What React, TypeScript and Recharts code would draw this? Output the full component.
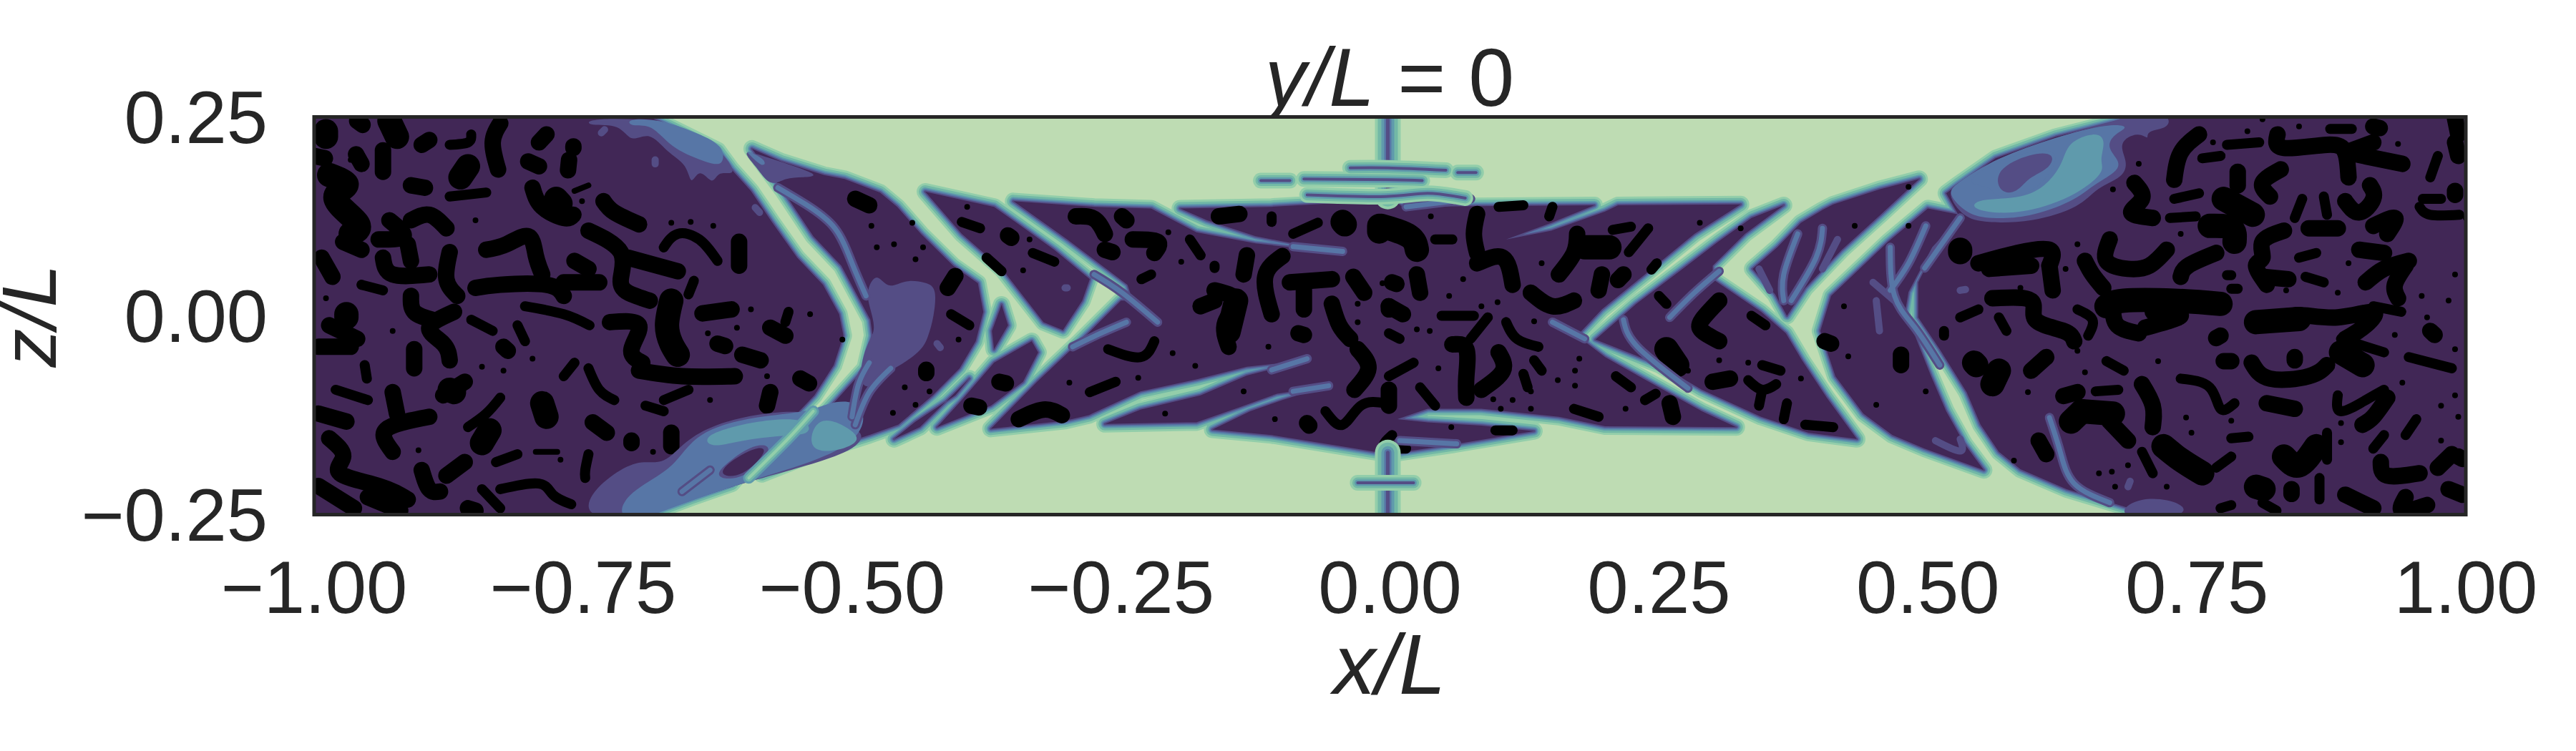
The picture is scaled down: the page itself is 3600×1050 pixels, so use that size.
import { ScatterChart, Scatter, XAxis, YAxis, ReferenceArea } from "recharts";

// ticks
const xTicks = [-1, -0.75, -0.5, -0.25, 0, 0.25, 0.5, 0.75, 1];
const zTicks = [-0.25, 0, 0.25];

// all shapes below are flat lists x,z,x,z... read off the picture, in thousandths of x/L and z/L
// regions of low field, the filaments are the gaps left between them
const cells = [
  [-688, 255, -688, 250, -655, 228, -625, 208, -612, 184, -594, 157, -574, 117, -551, 73, -527, 39, -512, 2, -508, -25, -517, -62, -535, -100, -561, -137, -593, -181, -612, -211, -648, -228, -688, -248, -700, -255, -1010, -255, -1010, 255],
  [-593, 210, -566, 194, -526, 177, -507, 172, -474, 155, -458, 137, -436, 103, -406, 63, -383, 41, -378, 5, -385, -32, -400, -66, -425, -100, -457, -137, -484, -150, -530, -170, -584, -199, -524, -120, -488, -66, -481, -25, -483, -5, -510, 63, -536, 100, -564, 157],
  [-432, 156, -368, 137, -343, 113, -312, 83, -279, 46, -286, 19, -304, -18, -322, -8, -360, 58, -398, 103],
  [-333, -32, -327, -46, -341, -83, -371, -113, -421, -140, -398, -106, -368, -59],
  [-361, 14, -355, -12, -368, -42, -370, -19],
  [-461, -155, -437, -140, -391, -79, -404, -100, -441, -133],
  [-350, 144, -275, 137, -222, 135, -180, 105, -125, 91, -44, 79, -125, 100, -170, 120, -195, 135, -110, 137, -44, 142, -2, 150, 12, 137, 190, 139, 150, 117, 108, 96, 150, 107, 200, 131, 212, 139, 326, 140, 283, 103, 237, 52, 197, 8, 174, -25, 200, -52, 250, -90, 290, -120, 322, -140, 200, -139, 157, -127, 85, -117, 35, -117, 7, -130, 35, -134, 85, -138, 134, -145, 63, -161, -1, -174, -37, -166, -110, -150, -165, -143, -130, -120, -100, -106, -60, -89, -105, -98, -140, -115, -180, -134, -189, -134, -265, -136, -232, -118, -176, -100, -133, -75, -77, -56, -133, -64, -180, -80, -232, -95, -280, -125, -302, -132, -371, -142, -328, -83, -288, -32, -250, 19, -239, 19, -244, 39, -300, 96],
  [191, -30, 229, 15, 272, 59, 305, 93, 336, 123, 366, 139, 330, 103, 300, 63, 300, 46, 345, 5, 368, -22, 383, -56, 406, -103, 434, -155, 389, -147, 345, -127, 290, -93, 251, -62],
  [402, 133, 412, 140, 455, 159, 492, 172, 456, 127, 420, 83, 386, 35, 369, 0, 358, 27, 337, 59, 360, 86, 382, 117],
  [500, 135, 530, 127, 527, 120, 504, 86, 482, 30, 478, -2, 488, -25, 503, -76, 517, -120, 534, -161, 552, -194, 497, -167, 467, -150, 440, -123, 414, -76, 400, -19, 410, 25, 463, 93],
  [692, 255, 692, 250, 669, 242, 619, 225, 563, 198, 527, 164, 517, 154, 530, 123, 510, 93, 491, 42, 491, -2, 511, -42, 536, -96, 549, -137, 566, -171, 586, -193, 629, -218, 702, -248, 715, -255, 1010, -255, 1010, 255],
];

// black pockets, grouped by how thick they are drawn
const pocketsTiny = [
  [-771, 147], [-751, 144], [-745, 164, -758, 157], [-850, 120], [-966, 196], [-668, 117], [-650, 118], [-629, 113], [-594, 8], [-989, 22], [-927, -19], [-607, -15], [-634, -22], [-539, 2], [-509, -30], [-579, -76], [-797, -54], [-824, -69], [-844, -64], [-632, -106], [-794, -171, -774, -171], [-771, -181], [-685, -171], [-903, -169],
  [-482, 113], [-444, 117], [-477, 86], [-434, 86], [-461, 90], [-441, 71], [-401, -30], [-451, -90], [-441, -112], [-462, -122], [-428, -95], [-393, 137], [-335, 96], [-341, 57], [-298, -84], [-206, 105], [-194, 68], [-107, -130], [-209, -123], [-136, -95], [-181, -63], [-234, -78], [-202, -47], [-113, -39], [-7, 41], [-30, 15], [-30, -8],
  [38, 125], [141, 66], [68, 46], [55, 25], [85, 12], [100, 17], [134, -7], [25, -17], [37, -19], [45, -66], [176, -54], [172, -69], [156, -81], [172, -88], [131, -95], [96, -105], [114, -106], [131, -117], [103, -117], [219, -117], [277, -69], [306, -56], [333, -59], [382, -79], [432, 113], [482, 113], [482, 162], [422, 12], [426, -51], [326, 110], [288, 117], [452, -112], [498, -95], [57, -140],
  [696, 191], [765, 218], [672, 159], [845, 238], [797, 232], [811, 247], [1000, 123], [735, 103], [586, 35], [628, 59], [639, 90], [891, 66], [990, 52], [959, 25], [984, 19], [881, 29], [833, 32], [964, -2], [934, -24], [990, -42], [714, -57], [646, -71], [639, -44], [593, -96], [941, -84], [990, -100], [977, -113], [993, -127], [884, -135], [782, -132], [740, -128], [977, -157], [745, -147], [884, -159], [686, -188], [659, -198], [671, -196], [580, -182], [722, -215], [674, -215], [937, 216],
];
const pocketsThin = [
  [-874, 215, -857, 218, -854, 228], [-874, 150, -840, 155], [-854, -5, -834, -19], [-811, -12, -804, -32], [-956, 39, -936, 32], [-675, 86, -662, 103, -642, 96, -625, 69], [-647, 44, -652, 27], [-804, 12, -768, 2, -744, -12], [-559, 5, -562, -8], [-953, -62, -951, -79], [-980, -93, -950, -106], [-675, -106, -652, -93], [-692, -113, -675, -120], [-827, -103, -840, -123, -857, -140], [-745, -174, -748, -194, -748, -204], [-831, -184, -811, -174], [-827, -218, -791, -211, -778, -225, -761, -237], [-844, -218, -827, -242], [-758, -59, -768, -76], [-745, -66, -735, -93, -721, -106],
  [-408, 2, -391, -12], [-375, 73, -361, 56], [-332, 79, -312, 68], [-186, 96, -176, 76], [-222, 52, -231, 46], [-163, 63, -163, 60], [-110, 125, -110, 118], [-90, 103, -67, 117], [-262, -42, -232, -52, -219, -32], [-279, -96, -255, -83], [-60, -120, -44, -137, -27, -113, -4, -110], [2, -150, -5, -164, 15, -167], [98, -144, 114, -144],
  [101, 137, 124, 139], [151, 137, 148, 125], [42, 96, 58, 96], [207, 108, 224, 112], [240, 110, 222, 80], [48, 0, 78, 0], [-1, -22, 9, -29], [108, -8, 118, -29, 138, -39], [91, -2, 75, -29], [22, -59, -1, -76], [28, -90, 42, -113], [124, -73, 128, -90], [134, -56, 141, -69], [210, -76, 224, -90], [237, -106, 247, -98], [171, -117, 194, -127], [346, -62, 363, -69], [333, -81, 346, -93, 359, -86], [346, -93, 343, -113], [369, -110, 366, -130], [250, 25, 257, 15], [336, 0, 349, -12], [243, 58, 248, 66], [386, -137, 412, -140], [-398, 118, -381, 110],
  [729, 147, 752, 154], [725, 123, 749, 125], [755, 198, 772, 201], [778, 215, 808, 218], [874, 235, 894, 235], [974, 201, 967, 174], [848, 147, 841, 123], [868, 150, 871, 127], [957, 137, 967, 127, 994, 127], [960, 147, 977, 147], [530, -2, 547, 8], [566, -2, 573, -19], [515, -19, 515, -25], [639, 8, 653, -5, 649, -25], [778, 51, 782, 51], [782, 34, 788, 34], [845, 73, 861, 79], [851, 49, 868, 42], [914, 12, 940, 5], [884, -29, 924, -46], [947, -52, 987, -66], [666, -57, 682, -69], [656, -95, 677, -93], [735, -79, 762, -90, 772, -117, 785, -110], [881, -100, 884, -120, 907, -106, 924, -93], [954, -130, 944, -150], [924, -150, 914, -167], [782, -154, 798, -152], [699, -171, 709, -198], [782, -177, 768, -191], [871, -147, 871, -181], [864, -204, 864, -231], [782, -238, 772, -242], [811, -235, 824, -245], [761, 20, 772, 15],
];
const pocketsMid = [
  [-960, 245, -955, 240], [-893, 221, -900, 215], [-1000, 201, -990, 198], [-961, 203, -956, 191], [-936, 208, -936, 181], [-827, 242, -834, 218, -829, 184], [-784, 228, -791, 218], [-759, 213, -759, 211], [-801, 194, -791, 188], [-763, 196, -764, 183], [-973, 93, -956, 83], [-910, 164, -897, 161], [-797, 161, -788, 137, -768, 123, -759, 127], [-731, 144, -721, 130, -698, 115], [-930, 120, -917, 100, -940, 96], [-910, 120, -893, 127, -877, 110], [-913, 90, -910, 69], [-874, 80, -877, 46, -867, 25], [-840, 83, -821, 90, -801, 100, -794, 76, -788, 52], [-745, 107, -715, 80, -715, 46, -708, 29, -688, 19], [-708, 73, -662, 56], [-605, 93, -605, 63], [-758, 69, -745, 59], [-936, 73, -927, 52, -893, 52], [-993, 73, -983, 49], [-850, 35, -827, 39, -784, 39, -768, 25], [-768, 42, -735, 42], [-910, 25, -907, 5, -890, -5], [-725, -8, -698, -12, -705, -42, -695, -59], [-698, -69, -658, -76, -609, -76], [-639, 3, -612, 8], [-986, -12, -960, -29], [-996, -39, -966, -39], [-870, 5, -893, -15, -880, -35, -874, -56], [-824, -39, -820, -44], [-907, -42, -907, -66], [-625, -35, -618, -38], [-576, -15, -562, -25], [-602, -49, -585, -56], [-548, -79, -540, -85], [-927, -96, -923, -123], [-860, -83, -880, -100], [-576, -96, -579, -113], [-741, -134, -728, -147], [-996, -123, -970, -133], [-893, -127, -933, -143, -927, -171], [-986, -154, -973, -177, -976, -198, -940, -214, -913, -231], [-705, -157, -705, -160], [-668, -147, -668, -164], [-860, -184, -877, -201], [-900, -194, -893, -218, -883, -221], [-950, -228, -920, -245], [-996, -214, -963, -242], [-857, -242, -850, -245],
  [-497, 147, -484, 139], [-404, 50, -411, 35], [-431, -68, -431, -72], [-355, 101, -352, 98], [-265, 83, -258, 80], [-363, -83, -357, -85], [-389, -113, -382, -115], [-292, 125, -275, 122, -265, 103], [-249, 125, -245, 120], [-239, 96, -216, 93, -219, 79], [-159, 125, -140, 128], [-133, 76, -136, 52], [-100, 75, -116, 49, -110, 2], [-163, 32, -143, 19, -153, -8, -150, -39], [-176, 12, -163, 19], [-93, 42, -54, 46], [-80, 32, -80, 8], [-34, 49, -24, 29], [-54, 15, -47, -12, -37, -29], [-1, 12, -1, 8], [-85, -22, -80, -24], [-30, -42, -20, -66, -33, -93], [-77, -135, -75, -138], [-1, 187, -1, 186], [-345, -130, -322, -118, -305, -125],
  [81, 128, 78, 103, 81, 79], [25, 52, 28, 29], [2, 42, 6, 40], [81, 66, 105, 73, 114, 39], [197, 52, 194, 32], [217, 52, 212, 45], [131, 29, 151, 12, 171, 19], [-1, 12, 12, 2], [58, -36, 71, -42, 71, -76, 71, -103], [101, -46, 105, -69, 85, -93], [-1, -93, -1, -113], [260, -110, 263, -127], [300, -83, 316, -79], [306, 19, 290, -5, 290, -19, 306, -32], [404, -32, 410, -35], [475, -49, 475, -62], [157, 52, 171, 79, 174, 103],
  [752, 228, 735, 205, 729, 171], [825, 228, 831, 211, 871, 215, 888, 205, 891, 174], [914, 218, 888, 205], [891, 205, 941, 191], [990, 248, 993, 228], [914, 238, 920, 236], [828, 184, 811, 167, 818, 150], [788, 181, 788, 164], [692, 167, 699, 147, 689, 130, 709, 123], [888, 144, 901, 130, 914, 147, 911, 164], [990, 157, 990, 152], [914, 113, 934, 123, 927, 103], [831, 107, 811, 93, 811, 73, 805, 63, 815, 39], [811, 49, 835, 46], [854, 110, 881, 110], [669, 96, 666, 69, 686, 59, 706, 63, 722, 83], [547, 66, 583, 79, 613, 83, 613, 63], [557, 59, 596, 63], [613, 63, 616, 32], [646, 69, 653, 52, 663, 35], [768, 79, 742, 63, 735, 49], [901, 83, 924, 79], [947, 69, 924, 59, 907, 42], [944, 63, 934, 39, 937, 22], [560, 22, 596, 19, 600, -5, 626, -19, 636, -32], [672, 12, 676, -12, 696, -22], [709, 5, 735, 0, 702, -15], [805, -5, 828, -5, 845, 1, 881, -2, 914, 5, 907, -12, 888, -29], [772, -25, 768, -28], [967, -19, 971, -24], [841, -52, 841, -56], [775, -57, 782, -57], [801, -59, 818, -79, 854, -76, 871, -62], [610, -52, 596, -69], [639, -96, 626, -101], [699, -86, 709, -113, 709, -140], [815, -110, 841, -117], [927, -103, 914, -127, 904, -137], [669, -133, 686, -157], [603, -157, 610, -174], [921, -184, 927, -201, 957, -198], [987, -174, 974, -191], [838, -218, 838, -224], [888, -225, 914, -242], [944, -228, 941, -245, 964, -238], [984, -218, 997, -225], [993, 201, 990, 218], [993, -177, 997, -180],
];
const pocketsWide = [
  [-989, 232, -989, 225], [-930, 245, -923, 225], [-857, 188, -864, 174], [-986, 177, -970, 164, -980, 147, -960, 117, -966, 103], [-775, 147, -771, 141], [-668, 19, -672, -12, -668, -35, -662, -49], [-970, 2, -970, -2], [-874, -93, -870, -96], [-788, -110, -784, -127], [-837, -144, -844, -160],
  [-143, 19, -150, -20], [-44, 118, -42, 115], [-10, 113, -10, 106], [-8, 113, 18, 100, 25, 83], [181, 86, 204, 86], [257, -42, 267, -62],
  [530, 83, 530, 80], [775, 147, 802, 127], [762, 113, 782, 110, 785, 93], [543, -59, 545, -62], [566, -69, 560, -86], [884, -46, 904, -62], [666, 12, 682, 19, 729, 19, 772, 15], [805, -8, 845, -4], [643, -120, 633, -133], [643, -120, 672, -123], [719, -164, 735, -181, 755, -198], [831, -177, 845, -188, 861, -164], [805, -215, 812, -218],
];

// softer patches of the field, painted in order from dark to light
const indigoPatches = [
  [-748, 248, -745, 238, -715, 242, -706, 216, -688, 233, -672, 205, -653, 191, -650, 161, -642, 188, -629, 162, -625, 184, -605, 174, -622, 211, -655, 232, -688, 248],
  [-605, 211, -576, 198, -526, 176, -546, 174, -562, 174, -576, 161, -589, 188],
  [-487, 32, -477, 56, -467, 32, -451, 46, -431, 42, -421, 35, -424, -2, -429, -25, -434, -42, -454, -62, -471, -73, -487, -96, -494, -76, -487, -35, -477, -19, -484, 12],
  [-748, -255, -745, -225, -718, -194, -695, -181, -675, -188, -655, -157, -629, -137, -589, -123, -536, -117, -530, -143, -490, -137, -487, -171, -609, -211, -695, -255],
  [692, 255, 725, 255, 725, 235, 702, 233, 706, 220, 696, 232, 676, 218, 686, 194, 682, 174, 656, 161, 643, 137, 596, 117, 553, 117, 533, 123, 517, 154, 527, 167, 563, 198, 619, 225, 669, 242],
  [669, -255, 696, -225, 740, -235, 740, -255],
];
const bluePatches = [
  [-711, 248, -705, 237, -688, 242, -672, 218, -658, 205, -632, 191, -619, 189, -619, 215, -648, 232, -678, 247],
  [-602, 211, -579, 196, -582, 186, -592, 198],
  [-718, -255, -711, -225, -675, -198, -662, -181, -649, -157, -629, -140, -592, -127, -536, -120, -526, -110, -487, -103, -487, -167, -609, -211, -692, -255],
  [669, 242, 689, 238, 672, 228, 666, 211, 679, 194, 676, 181, 653, 164, 636, 144, 593, 123, 557, 122, 537, 127, 517, 154, 527, 167, 563, 198, 619, 225],
];
const tealPatches = [
  [-640, -150, -592, -132, -541, -127, -537, -150, -562, -150, -606, -157, -632, -167],
  [-533, -123, -503, -140, -490, -157, -513, -171, -543, -171],
  [656, 232, 666, 221, 659, 194, 666, 181, 633, 147, 586, 128, 553, 130, 540, 137, 547, 147, 580, 147, 606, 157, 626, 191, 629, 218],
];
const innerBluePatches = [
  [530, 164, 563, 197, 629, 218, 610, 167, 583, 147, 560, 150, 560, 164],
];
const innerIndigoPatches = [
  [562, 184, 596, 205, 619, 205, 613, 184, 593, 174, 583, 154, 566, 154],
  [-632, -204, -612, -180, -589, -160, -570, -164, -600, -208],
];
const purplePatches = [
  [-625, -201, -615, -184, -589, -164, -576, -167, -602, -204],
];

// filaments and streaks running over the dark field
const strongStreaks = [
  [-536, -120, -559, -154, -596, -204],
];
const softStreaks = [
  [-275, 52, -249, 29, -216, -8],
  [-295, -39, -269, -22, -245, -8],
  [-110, -68, -77, -54],
  [-90, -95, -57, -88],
  [-90, 87, -44, 81],
  [75, 147, 15, 137],
  [9, -157, 62, -161],
  [217, -5, 230, -39, 277, -91],
  [151, -8, 181, -29],
  [260, -2, 283, 29, 306, 56],
  [402, 110, 396, 73, 373, 19],
  [379, 103, 366, 52, 366, 19],
  [465, 86, 469, 25, 488, -15, 511, -62],
  [498, 113, 482, 66, 465, 32],
  [-569, 161, -543, 140, -516, 110, -500, 66, -487, 25],
  [-484, -59, -494, -86, -500, -127],
  [-464, -66, -484, -96, -497, -137],
  [613, -128, 623, -171, 636, -211, 669, -235],
  [530, 123, 497, 60],
  [-658, -221, -632, -194],
];
const paleStreaks = [
  [416, 96, 402, 59],
  [343, 59, 353, 32],
  [449, 42, 469, 19],
  [452, 19, 455, -19],
  [530, -155, 530, -170, 507, -157],
  [530, 32, 535, 33],
  [686, -215, 688, -208],
  [-302, 35, -300, 35],
  [-421, -35, -418, -40],
  [-733, 230, -730, 234],
  [-683, 191, -683, 196],
  [-586, 130, -590, 136],
];
const spine = [
  [-2, 255, -2, 225, -2, 190, -2, 150],
  [-2, -172, -2, -210, -2, -255],
];
const spikes = [
  [-37, 186, -2, 186, 52, 183],
  [63, 180, 80, 180],
  [-120, 170, -93, 170],
  [-80, 172, -2, 171, 30, 170],
  [-77, 152, -4, 150, 35, 154, 70, 148],
  [-30, -210, -2, -210, 22, -210],
];

const GREEN = "#bedcb3";
const PURPLE = "#412756";
const INDIGO = "#544d85";
const BLUE = "#5776a6";
const TEAL = "#5f9aac";
const SEA = "#72b8a6";
const MINT = "#93ceaa";

const toPoints = (flat: number[]) => {
  const pts = [];
  for (let i = 0; i < flat.length; i += 2) pts.push({ x: flat[i] / 1000, z: flat[i + 1] / 1000 });
  return pts.length === 1 ? [pts[0], pts[0]] : pts;
};

const noDot = () => null;

let seq = 0;
// one closed, filled shape
const area = (flat: number[], fill: string, strokeWidth = 0, curve = "linearClosed") => (
  <Scatter
    key={seq++}
    data={toPoints(flat)}
    dataKey="z"
    fill={fill}
    shape={noDot}
    line={{ fill, stroke: fill, strokeWidth, strokeLinejoin: "round" }}
    lineJointType={curve as any}
    isAnimationActive={false}
  />
);
// one open stroke
const streak = (flat: number[], stroke: string, strokeWidth: number) => (
  <Scatter
    key={seq++}
    data={toPoints(flat)}
    dataKey="z"
    fill={stroke}
    shape={noDot}
    line={{ fill: "none", stroke, strokeWidth, strokeLinejoin: "round", strokeLinecap: "round" }}
    lineJointType="natural"
    isAnimationActive={false}
  />
);

const edgeLevels: [string, number][] = [[MINT, 24], [SEA, 18], [TEAL, 12], [BLUE, 8], [INDIGO, 4]];
const spineLevels: [string, number][] = [[MINT, 36], [SEA, 28], [TEAL, 18], [BLUE, 10], [INDIGO, 5]];
const spikeLevels: [string, number][] = [[MINT, 22], [SEA, 15], [TEAL, 9], [INDIGO, 4]];
const strongLevels: [string, number][] = [[TEAL, 16], [SEA, 10], [MINT, 4]];

const fmt = (v: number) => (v < 0 ? "\u2212" : "") + Math.abs(v).toFixed(2);
const tickStyle = { fontFamily: "Liberation Sans", fontSize: 103, fill: "#262626" };
const labelStyle = { fontFamily: "Liberation Sans", fontSize: 118, fill: "#262626" };

export default function App() {
  seq = 0;
  return (
    <div style={{ position: "absolute", left: 0, top: 0, width: 3600, height: 1050, background: "#fff" }}>
      <ScatterChart width={3600} height={1050} margin={{ top: 163.5, right: 154, bottom: 130.5, left: 39 }}>
        <XAxis
          type="number"
          dataKey="x"
          domain={[-1, 1]}
          ticks={xTicks}
          interval={0}
          allowDataOverflow
          height={200}
          axisLine={false}
          tickLine={false}
          tickSize={0}
          tickMargin={64}
          tickFormatter={fmt}
          tick={tickStyle}
        />
        <YAxis
          type="number"
          dataKey="z"
          domain={[-0.25, 0.25]}
          ticks={zTicks}
          interval={0}
          allowDataOverflow
          width={400}
          axisLine={false}
          tickLine={false}
          tickSize={0}
          tickMargin={65}
          tickFormatter={fmt}
          tick={tickStyle}
        />
        <ReferenceArea x1={-1} x2={1} y1={-0.25} y2={0.25} fill={GREEN} fillOpacity={1} stroke="none" />

        {edgeLevels.map(([color, w]) => cells.map((c) => area(c, color, w)))}
        {cells.map((c) => area(c, PURPLE))}

        {pocketsTiny.map((p) => streak(p, "#000", 8))}
        {pocketsThin.map((p) => streak(p, "#000", 14))}
        {pocketsMid.map((p) => streak(p, "#000", 23))}
        {pocketsWide.map((p) => streak(p, "#000", 34))}

        {indigoPatches.map((p) => area(p, INDIGO, 0, "basisClosed"))}
        {bluePatches.map((p) => area(p, BLUE, 0, "basisClosed"))}
        {tealPatches.map((p) => area(p, TEAL, 0, "basisClosed"))}
        {innerBluePatches.map((p) => area(p, BLUE, 0, "basisClosed"))}
        {innerIndigoPatches.map((p) => area(p, INDIGO, 0, "basisClosed"))}
        {purplePatches.map((p) => area(p, PURPLE, 0, "basisClosed"))}

        {paleStreaks.map((p) => streak(p, INDIGO, 10))}
        {softStreaks.map((p) => streak(p, INDIGO, 13))}
        {softStreaks.map((p) => streak(p, BLUE, 7))}
        {spineLevels.map(([c, w]) => spine.map((p) => streak(p, c, w)))}
        {spikeLevels.map(([c, w]) => spikes.map((p) => streak(p, c, w)))}
        {strongLevels.map(([c, w]) => strongStreaks.map((p) => streak(p, c, w)))}

        <ReferenceArea
          x1={-1}
          x2={1}
          y1={-0.25}
          y2={0.25}
          fill="none"
          stroke="#262626"
          strokeWidth={5}
          zIndex={1500}
        />

        <text x={1942} y={148} textAnchor="middle" {...labelStyle} fontSize={115}>
          <tspan fontStyle="italic">y/L</tspan> = 0
        </text>
        <text x={1942} y={970} textAnchor="middle" fontStyle="italic" {...labelStyle}>
          x/L
        </text>
        <text
          transform="translate(78 441.5) rotate(-90)"
          textAnchor="middle"
          fontStyle="italic"
          {...labelStyle}
          fontSize={108}
        >
          z/L
        </text>
      </ScatterChart>
    </div>
  );
}
